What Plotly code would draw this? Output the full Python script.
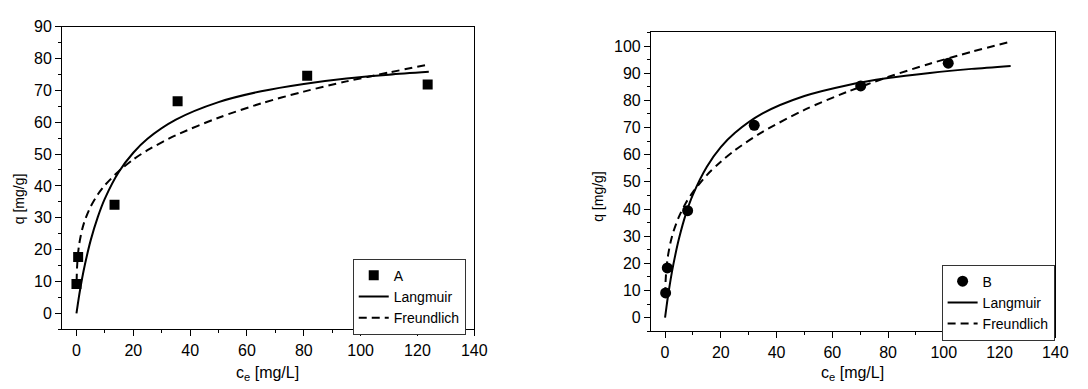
import plotly.graph_objects as go

# ---- data ----
# Panel A: experimental points
cA = [0, 0.6, 13.4, 35.6, 81.2, 123.6]
qA = [9.2, 17.7, 34.1, 66.6, 74.6, 71.8]
# Panel A: Langmuir curve
cA_L = [0, 0.5, 1, 2, 3, 5, 7.5, 10, 15, 20, 25, 35, 50, 65, 80, 95, 110, 124]
qA_L = [0, 3.0, 5.9, 11.0, 15.4, 22.9, 30.2, 36.0, 44.5, 50.4, 54.8, 60.8, 66.3, 69.7, 72.0, 73.7, 74.9, 75.8]
# Panel A: Freundlich curve
cA_F = [0.05, 0.2, 0.5, 1, 2, 3, 5, 7.5, 10, 15, 20, 25, 35, 50, 65, 80, 95, 110, 124]
qA_F = [9.9, 14.3, 18.2, 21.9, 26.3, 29.3, 33.5, 37.3, 40.2, 44.7, 48.3, 51.2, 55.9, 61.4, 65.9, 69.6, 72.8, 75.6, 78.1]

# Panel B: experimental points
cB = [0.2, 0.8, 8.1, 32.0, 70.2, 101.6]
qB = [9.1, 18.3, 39.4, 70.8, 85.3, 93.7]
# Panel B: Langmuir curve
cB_L = [0, 0.5, 1, 2, 3, 5, 7.5, 10, 15, 20, 25, 35, 50, 65, 80, 95, 110, 124]
qB_L = [0, 3.9, 7.6, 14.1, 19.7, 29.1, 38.3, 45.3, 55.6, 62.8, 68.0, 75.2, 81.6, 85.5, 88.2, 90.1, 91.6, 92.7]
# Panel B: Freundlich curve
cB_F = [0.04, 0.2, 0.5, 1, 2, 3, 5, 7.5, 10, 15, 20, 25, 35, 50, 65, 80, 95, 110, 124]
qB_F = [8.2, 13.6, 18.1, 22.5, 27.9, 31.7, 37.2, 42.3, 46.2, 52.5, 57.4, 61.6, 68.4, 76.5, 83.0, 88.6, 93.5, 97.9, 101.6]

labelA = "A"
labelB = "B"
labelL = "Langmuir"
labelF = "Freundlich"
x_title = "c<sub>e</sub> [mg/L]"
y_title = "q [mg/g]"

W, H = 1088, 389
FONT = "Liberation Sans, Arial, sans-serif"
DASH = "8px,5px"

fig = go.Figure()

# Panel A
fig.add_trace(go.Scatter(x=cA_L, y=qA_L, mode="lines", name=labelL,
                         line=dict(color="black", width=2, shape="spline", smoothing=0.8),
                         xaxis="x", yaxis="y", legend="legend", legendrank=2))
fig.add_trace(go.Scatter(x=cA_F, y=qA_F, mode="lines", name=labelF,
                         line=dict(color="black", width=2, dash=DASH, shape="spline", smoothing=0.8),
                         xaxis="x", yaxis="y", legend="legend", legendrank=3))
fig.add_trace(go.Scatter(x=cA, y=qA, mode="markers", name=labelA,
                         marker=dict(symbol="square", size=10, color="black"),
                         xaxis="x", yaxis="y", legend="legend", legendrank=1))

# Panel B
fig.add_trace(go.Scatter(x=cB_L, y=qB_L, mode="lines", name=labelL,
                         line=dict(color="black", width=2, shape="spline", smoothing=0.8),
                         xaxis="x2", yaxis="y2", legend="legend2", legendrank=2))
fig.add_trace(go.Scatter(x=cB_F, y=qB_F, mode="lines", name=labelF,
                         line=dict(color="black", width=2, dash=DASH, shape="spline", smoothing=0.8),
                         xaxis="x2", yaxis="y2", legend="legend2", legendrank=3))
fig.add_trace(go.Scatter(x=cB, y=qB, mode="markers", name=labelB,
                         marker=dict(symbol="circle", size=11, color="black"),
                         xaxis="x2", yaxis="y2", legend="legend2", legendrank=1))

minor_common = dict(ticklen=3, ticks="outside", tickcolor="black", tickwidth=1.3)
axis_common = dict(showgrid=False, zeroline=False, showline=True, linecolor="black",
                   linewidth=1.3, mirror=True, ticks="outside", ticklen=6, tickwidth=1.3,
                   tickcolor="black", tickfont=dict(family=FONT, size=16, color="black"))


def px_x(p):
    return p / W


def px_y(p):
    return 1 - p / H


legend_common = dict(xanchor="left", yanchor="top", bordercolor="#333", borderwidth=1,
                     bgcolor="white", font=dict(family=FONT, size=14, color="black"),
                     tracegroupgap=0)

fig.update_layout(
    width=W, height=H,
    margin=dict(l=0, r=0, t=0, b=0),
    paper_bgcolor="white", plot_bgcolor="white",
    font=dict(family=FONT, size=15, color="black"),
    xaxis=dict(domain=[px_x(63), px_x(480)], range=[-5, 140], dtick=20, anchor="y",
               minor=dict(dtick=10, **minor_common), **axis_common),
    yaxis=dict(domain=[px_y(328), px_y(19)], range=[-5, 90], dtick=10, anchor="x",
               minor=dict(dtick=5, **minor_common), **axis_common),
    xaxis2=dict(domain=[px_x(659), px_x(1068)], range=[-5, 140], dtick=20, anchor="y2",
                minor=dict(dtick=10, **minor_common), **axis_common),
    yaxis2=dict(domain=[px_y(330), px_y(25)], range=[-5, 105], dtick=10, anchor="x2",
                minor=dict(dtick=5, **minor_common), **axis_common),
    legend=dict(x=px_x(357), y=px_y(256), **legend_common),
    legend2=dict(x=px_x(953), y=px_y(262), **legend_common),
    showlegend=True,
    annotations=[
        dict(text=y_title, x=px_x(19.5), y=px_y(195), xref="paper", yref="paper",
             xanchor="center", yanchor="middle",
             textangle=-90, showarrow=False, font=dict(family=FONT, size=14)),
        dict(text=y_title, x=px_x(605), y=px_y(192), xref="paper", yref="paper",
             xanchor="center", yanchor="middle",
             textangle=-90, showarrow=False, font=dict(family=FONT, size=14)),
        dict(text=x_title, x=px_x(271), y=px_y(373), xref="paper", yref="paper",
             xanchor="center", yanchor="middle",
             showarrow=False, font=dict(family=FONT, size=16)),
        dict(text=x_title, x=px_x(863), y=px_y(373), xref="paper", yref="paper",
             xanchor="center", yanchor="middle",
             showarrow=False, font=dict(family=FONT, size=16)),
    ],
)

fig.write_html("out.html")
